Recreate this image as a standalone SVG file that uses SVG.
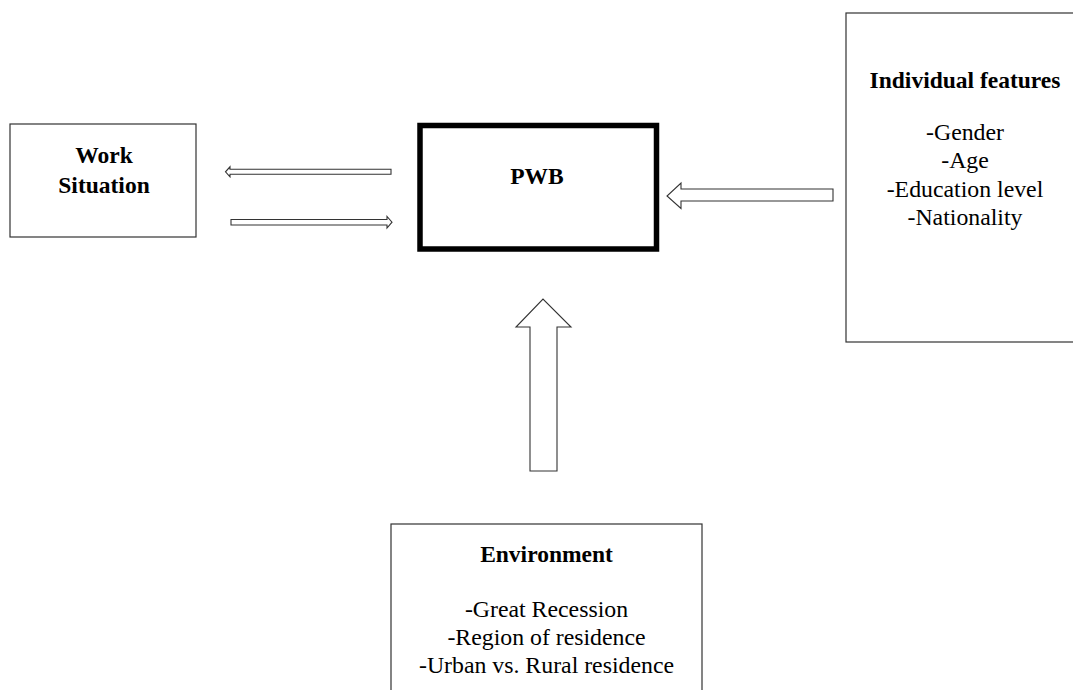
<svg xmlns="http://www.w3.org/2000/svg" width="1073" height="690" viewBox="0 0 1073 690">
<style>
.box{fill:#fff;stroke:#333;stroke-width:1.2}
.thick{fill:#fff;stroke:#000;stroke-width:5.5}
.arrow{fill:#fff;stroke:#333;stroke-width:1.1;stroke-linejoin:miter}
.h{font-family:"Liberation Serif","Times New Roman",serif;font-weight:bold;font-size:23.5px;fill:#000;text-anchor:middle}
.t{font-family:"Liberation Serif","Times New Roman",serif;font-size:23.8px;fill:#000;text-anchor:middle}
</style>
<rect width="1073" height="690" fill="#fff"/>
<g id="connectors">
<polygon class="arrow" points="391,169.3 230,169.3 230,166.8 225.5,171.8 230,176.8 230,174.3 391,174.3"/>
<polygon class="arrow" points="231,219.5 387,219.5 387,216.5 392,222.2 387,228 387,225 231,225"/>
<polygon class="arrow" points="833,189 681,189 681,183 667,196 681,208.5 681,201 833,201"/>
<polygon class="arrow" points="530,471 530,327 516,327 543,299 571,327 557,327 557,471"/>
</g>
<g id="work-situation">
<rect class="box" x="10" y="124" width="186" height="113"/>
<text class="h" x="104" y="163">Work</text>
<text class="h" x="104" y="193">Situation</text>
</g>
<g id="pwb">
<rect class="thick" x="420" y="125.5" width="236.5" height="123.5"/>
<text class="h" x="537" y="184">PWB</text>
</g>
<g id="individual-features">
<rect class="box" x="846" y="13" width="240" height="329"/>
<text class="h" x="965" y="88">Individual features</text>
<text class="t" x="965" y="140">-Gender</text>
<text class="t" x="965" y="168">-Age</text>
<text class="t" x="965" y="197">-Education level</text>
<text class="t" x="965" y="225">-Nationality</text>
</g>
<g id="environment">
<rect class="box" x="391" y="524" width="311" height="180"/>
<text class="h" x="546.5" y="562">Environment</text>
<text class="t" x="546.5" y="617">-Great Recession</text>
<text class="t" x="546.5" y="645">-Region of residence</text>
<text class="t" x="546.5" y="673">-Urban vs. Rural residence</text>
</g>
</svg>
